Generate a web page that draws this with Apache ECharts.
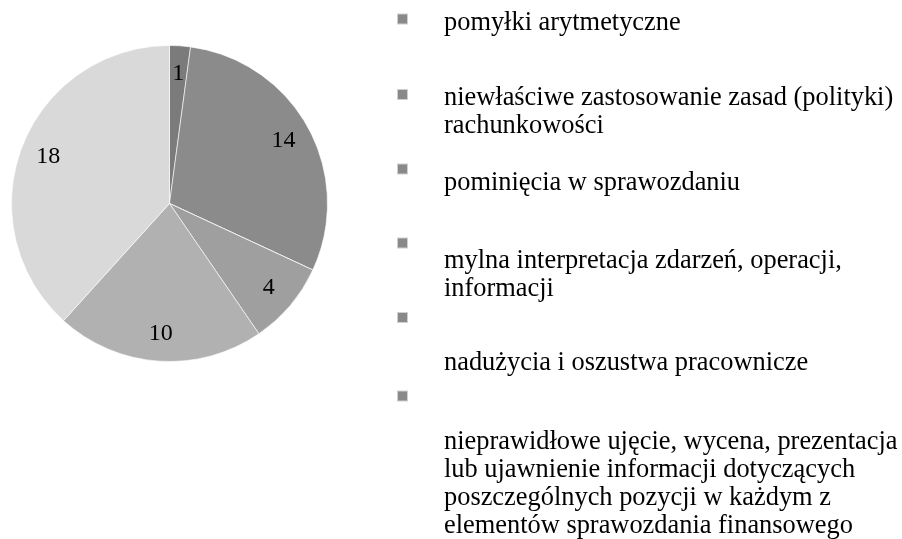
<!DOCTYPE html>
<html>
<head>
<meta charset="utf-8">
<script src="https://cdn.jsdelivr.net/npm/echarts@6/dist/echarts.min.js"></script>
<style>
html, body { margin: 0; padding: 0; background: #fff; }
#chart { width: 902px; height: 539px; }
</style>
</head>
<body>
<div id="chart"></div>
<script>
var categories = [
    'pomyłki arytmetyczne',
    'niewłaściwe zastosowanie zasad (polityki) rachunkowości',
    'pominięcia w sprawozdaniu',
    'mylna interpretacja zdarzeń, operacji, informacji',
    'nadużycia i oszustwa pracownicze',
    'nieprawidłowe ujęcie, wycena, prezentacja lub ujawnienie informacji dotyczących poszczególnych pozycji w każdym z elementów sprawozdania finansowego'
];
var legendText = [
    'pomyłki arytmetyczne',
    'niewłaściwe zastosowanie zasad (polityki)\nrachunkowości',
    'pominięcia w sprawozdaniu',
    'mylna interpretacja zdarzeń, operacji,\ninformacji',
    'nadużycia i oszustwa pracownicze',
    'nieprawidłowe ujęcie, wycena, prezentacja\nlub ujawnienie informacji dotyczących\nposzczególnych pozycji w każdym z\nelementów sprawozdania finansowego'
];
var values = [1, 14, 0, 4, 10, 18];
var sliceColors = ['#7b7b7b', '#8b8b8b', '#969696', '#9f9f9f', '#b1b1b1', '#d9d9d9'];

// legend layout: marker tops and how far the text block sits below the marker
var markerTops = [13.5, 89, 163.5, 237.5, 312, 390.5];
var textShift = [4.5, 17.5, 14.5, 32, 46, 88];
var FONT = 'Liberation Serif';
var FS = 26.4, LH = 28, MK = 11;

var pieData = categories.map(function (name, i) {
    return { name: name, value: values[i], itemStyle: { color: sliceColors[i] } };
});

var legends = categories.map(function (name, i) {
    var n = legendText[i].split('\n').length;
    var spacer = textShift[i] * 2;
    var blockTop = MK / 2 - (spacer + n * LH) / 2;
    return {
        orient: 'vertical',
        left: 396,
        top: markerTops[i] + Math.min(0, blockTop),
        padding: 0,
        data: [name],
        icon: 'rect',
        itemWidth: MK,
        itemHeight: MK,
        selectedMode: false,
        itemStyle: { color: '#898989' },
        formatter: function () {
            return '{s| }\n{t|' + legendText[i] + '}';
        },
        textStyle: {
            padding: [0, 0, 0, 31],
            rich: {
                s: { fontSize: 1, lineHeight: spacer, height: spacer },
                t: { fontFamily: FONT, fontSize: FS, lineHeight: LH, color: '#000' }
            }
        }
    };
});

var myChart = echarts.init(document.getElementById('chart'));

option = {
    backgroundColor: '#fff',
    animation: false,
    legend: legends,
    series: [{
        type: 'pie',
        center: [169.5, 203.5],
        radius: 158,
        startAngle: 90,
        data: pieData,
        label: { show: false },
        labelLine: { show: false },
        itemStyle: { borderColor: 'rgba(255,255,255,0.6)', borderWidth: 1 }
    }, {
        // transparent ring only used to place the value labels
        type: 'pie',
        center: [169.5, 203.5],
        radius: [96, 158],
        startAngle: 90,
        silent: true,
        data: pieData.map(function (d) {
            return { name: d.name, value: d.value, itemStyle: { color: 'rgba(0,0,0,0)' } };
        }),
        label: {
            show: true,
            position: 'inside',
            fontFamily: FONT,
            fontSize: 24,
            color: '#000',
            formatter: function (p) { return p.value ? String(p.value) : ''; }
        },
        labelLine: { show: false }
    }]
};

myChart.setOption(option);
</script>
</body>
</html>
